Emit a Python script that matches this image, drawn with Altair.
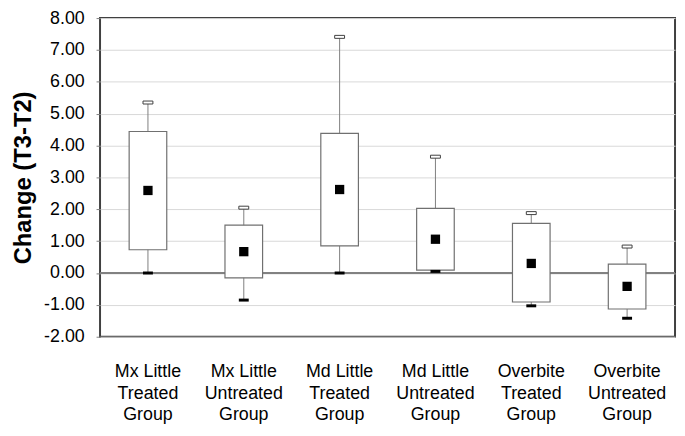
import altair as alt
import pandas as pd

categories = [
    "Mx Little\nTreated\nGroup",
    "Mx Little\nUntreated\nGroup",
    "Md Little\nTreated\nGroup",
    "Md Little\nUntreated\nGroup",
    "Overbite\nTreated\nGroup",
    "Overbite\nUntreated\nGroup",
]
q1 = [0.73, -0.15, 0.85, 0.09, -0.91, -1.13]
q3 = [4.44, 1.50, 4.38, 2.03, 1.56, 0.28]
lo = [0.00, -0.85, 0.00, 0.05, -1.03, -1.42]
hi = [5.35, 2.05, 7.41, 3.65, 1.88, 0.83]
mean = [2.59, 0.67, 2.62, 1.06, 0.30, -0.42]
y_ticks = [-2, -1, 0, 1, 2, 3, 4, 5, 6, 7, 8]

df = pd.DataFrame({"cat": categories, "q1": q1, "q3": q3, "lo": lo, "hi": hi, "mean": mean})

FONT = "Liberation Sans"

x = alt.X(
    "cat:N",
    sort=None,
    scale=alt.Scale(paddingInner=0, paddingOuter=0),
    axis=alt.Axis(
        title=None,
        labelAngle=0,
        ticks=False,
        domain=False,
        labelExpr="split(datum.label, '\\n')",
        labelFont=FONT,
        labelFontSize=18,
        labelColor="black",
        labelLineHeight=22,
        labelPadding=26,
    ),
)
yscale = alt.Scale(domain=[-2, 8], nice=False, zero=False)
yaxis = alt.Axis(
    title="Change (T3-T2)",
    titleFont=FONT,
    titleFontSize=24,
    titleFontWeight="bold",
    titleColor="black",
    titlePadding=8,
    values=y_ticks,
    labelExpr="replace(format(datum.value, '.2f'), '\u2212', '-')",
    labelFont=FONT,
    labelFontSize=18,
    labelColor="black",
    labelPadding=12,
    tickSize=4,
    tickColor="#7f7f7f",
    domain=False,
    grid=True,
    gridColor="#d9d9d9",
    gridWidth=1,
)

base = alt.Chart(df)

zero = base.mark_rule(color="#7f7f7f", strokeWidth=1).encode(
    y=alt.datum(0, scale=yscale, axis=yaxis)
)
whisker = base.mark_rule(color="#7f7f7f", strokeWidth=1).encode(
    x=x, y=alt.Y("lo:Q", scale=yscale, axis=yaxis), y2="hi:Q"
)
box = base.mark_bar(size=38, fill="white", stroke="#707070", strokeWidth=1.2).encode(
    x=x, y=alt.Y("q1:Q", scale=yscale, axis=yaxis), y2="q3:Q"
)
cap_hi = base.mark_tick(size=10, thickness=3, fill="white", stroke="#404040",
                        strokeWidth=1, opacity=1).encode(
    x=x, y=alt.Y("hi:Q", scale=yscale, axis=yaxis)
)
cap_lo = base.mark_tick(size=10, thickness=3, color="black", opacity=1).encode(
    x=x, y=alt.Y("lo:Q", scale=yscale, axis=yaxis)
)
mean_pt = base.mark_square(size=88, color="black", filled=True, opacity=1).encode(
    x=x, y=alt.Y("mean:Q", scale=yscale, axis=yaxis)
)

chart = (
    alt.layer(zero, whisker, box, cap_hi, cap_lo, mean_pt)
    .properties(
        width=581,
        height=322,
        autosize=alt.AutoSizeParams(type="none"),
        padding={"left": 93, "top": 8, "right": 2, "bottom": 86},
        background="white",
    )
    .configure_view(stroke="#404040", strokeWidth=2)
)

chart.save("out.html", embed_options={"renderer": "svg", "actions": False})
